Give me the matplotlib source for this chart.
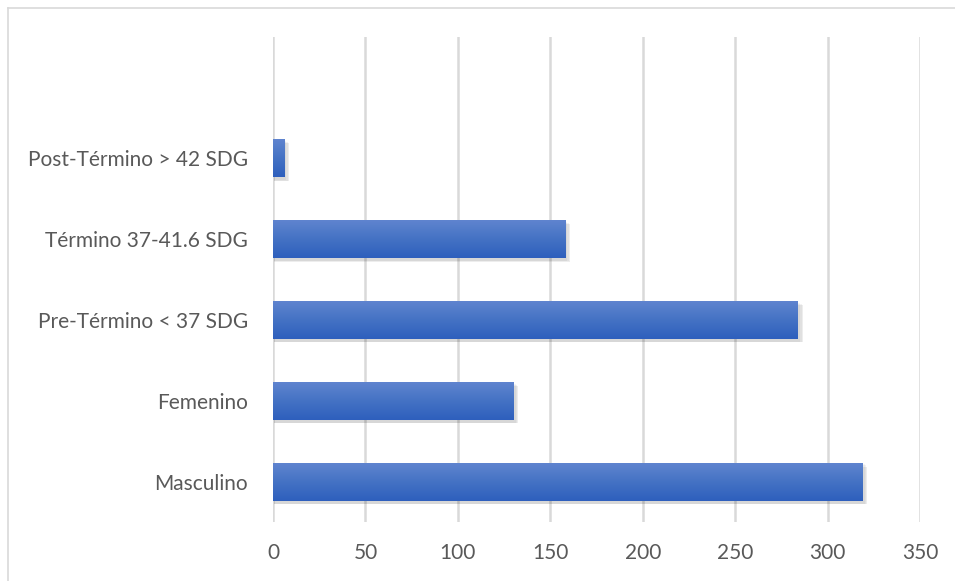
import numpy as np
import matplotlib
matplotlib.use("Agg")
import matplotlib.pyplot as plt
from matplotlib.colors import LinearSegmentedColormap
from matplotlib.lines import Line2D

categories = ['Masculino', 'Femenino', 'Pre-Término < 37 SDG',
              'Término 37-41.6 SDG', 'Post-Término > 42 SDG', '']
values = [319, 130, 284, 158, 6, 0]
xticks = [0, 50, 100, 150, 200, 250, 300, 350]

plt.rcParams['font.family'] = ['Lato', 'DejaVu Sans']
txt = '#595959'
grid_c = '#d9d9d9'
bar_h = 0.47

fig = plt.figure(figsize=(9.55, 5.81), dpi=100)
ax = fig.add_axes([273/955, 1 - 522/581, (920 - 273)/955, (522 - 37)/581])

# chart border (only top/left visible in the crop)
fig.add_artist(Line2D([8/955, 8/955], [0, 1 - 8/581], color=grid_c, lw=1.2))
fig.add_artist(Line2D([8/955, 1], [1 - 8/581, 1 - 8/581], color=grid_c, lw=1.2))

cmap = LinearSegmentedColormap.from_list('blu', ['#2e5fbd', '#4472c4', '#5f84cf'])
grad = np.linspace(0, 1, 64).reshape(-1, 1)

for i, v in enumerate(values):
    if v <= 0:
        continue
    # soft shadow
    for k, a in enumerate([0.04, 0.05, 0.07]):
        off = 0.8 + k * 0.6
        ax.barh(i - 0.03 - k * 0.008, v + off, height=bar_h + 0.015 - k * 0.01,
                left=0.5, color='black', alpha=a, lw=0, zorder=2)
    b = ax.barh(i, v, height=bar_h, color='none', lw=0, zorder=3)[0]
    im = ax.imshow(grad, cmap=cmap, aspect='auto', origin='lower',
                   extent=[0, v, i - bar_h / 2, i + bar_h / 2], zorder=3)
    im.set_clip_path(b)

ax.set_xlim(0, 350)
ax.set_ylim(-0.5, len(categories) - 0.5)
ax.set_xticks(xticks)
ax.set_yticks(range(len(categories)))
ax.set_yticklabels(categories)
ax.grid(axis='x', color=grid_c, lw=1.8)
ax.set_axisbelow(True)
for s in ax.spines.values():
    s.set_visible(False)
ax.tick_params(length=0, colors=txt, labelsize=15)
ax.tick_params(axis='x', pad=15)
ax.tick_params(axis='y', pad=18)

fig.savefig('out.png', dpi=100, facecolor='white')
